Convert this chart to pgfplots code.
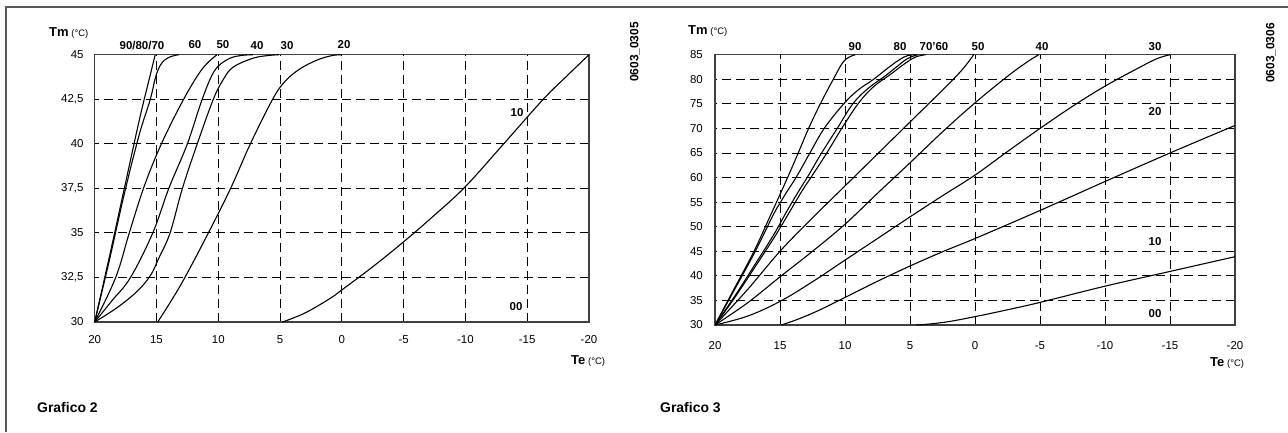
\documentclass[border=0pt]{standalone}
\usepackage{fontspec}
\setmainfont{Liberation Sans}
\usepackage{pgfplots}
\pgfplotsset{compat=1.18}
\pgfplotsset{
  mystyle/.style={
    scale only axis, anchor=south west,
    x dir=reverse, xmin=-20, xmax=20,
    xtick={20,15,10,5,0,-5,-10,-15,-20},
    xticklabels={20,15,10,5,0,-5,-10,-15,-20},
    major tick length=0pt,
    grid=major,
    major grid style={black, line width=0.8bp, dash pattern=on 9bp off 5bp},
    axis line style={line width=1.1bp, black!75},
    tick label style={font=\fontsize{11.5}{13}\selectfont, inner sep=0pt},
    cycle list={{black,solid}},
    no marks,
    every axis plot post/.append style={black, solid, line width=1.1bp, smooth, tension=0.6},
  }
}
\begin{document}
\begin{tikzpicture}[x=1bp,y=1bp]
\path[use as bounding box] (0,0) rectangle (1288,432);
\draw[line width=1.5bp, black!65] (6,0) -- (6,425) -- (1288,425);
% ---------------- Grafico 2 ----------------
\begin{axis}[mystyle, at={(94.7bp,110bp)}, width=494.3bp, height=267.3bp,
  ymin=30, ymax=45,
  ytick={30,32.5,35,37.5,40,42.5,45},
  yticklabels={30,{32,5},35,{37,5},40,{42,5},45},
  yticklabel shift=11bp,
  xticklabel shift=13.5bp]
\addplot coordinates {(20,30) (18.8,33.7) (17.6,37.5) (16.4,41.3) (15.6,43.6) (15.1,45)};
\addplot coordinates {(20,30) (18.8,33.5) (17.6,37.2) (16.4,40.5) (15.5,42.5) (15.05,43.8) (14.6,44.5) (14,44.85) (13.2,45)};
\addplot coordinates {(20,30) (18.3,32.5) (17.2,35) (16,37.6) (14.6,40) (12.8,42.5) (11.3,44.2) (10.1,45)};
\addplot coordinates {(20,30) (18.6,31.2) (17.1,32.5) (15.3,35) (14.0,37.5) (12.5,40) (11.3,42.5) (10.3,44.1) (9.2,44.75) (8.2,44.95) (7.2,45)};
\addplot coordinates {(20,30) (18.2,30.8) (16.6,31.7) (15.5,32.6) (14.8,33.6) (13.9,35) (12.9,37.5) (11.7,40) (10.4,42.5) (9.6,43.6) (8.8,44.3) (7.2,44.8) (6,44.95) (5.1,45)};
\addplot coordinates {(14.9,30) (13.8,31.2) (12.7,32.5) (10.8,35) (9.0,37.5) (7.4,40) (5.6,42.5) (4.6,43.5) (3.4,44.2) (2,44.7) (0.8,44.95) (0,45)};
\addplot coordinates {(4.8,30) (3,30.5) (1,31.3) (0,31.8) (-2.5,33.1) (-5,34.5) (-7.5,36.0) (-10,37.6) (-13.1,40) (-16.3,42.5) (-18.2,43.8) (-20,45)};
\end{axis}
% ---------------- Grafico 3 ----------------
\begin{axis}[mystyle, at={(715bp,107bp)}, width=520bp, height=270.3bp,
  ymin=30, ymax=85,
  ytick={30,35,...,85},
  yticklabels={30,35,40,45,50,55,60,65,70,75,80,85},
  yticklabel shift=12bp,
  xticklabel shift=16bp]
\addplot coordinates {(20,30) (18.5,37.5) (17,45) (15.7,52.5) (14.5,59.5) (13.6,65) (12.8,70) (11.9,75) (10.9,80) (10.2,83.3) (9.7,84.5) (9.2,85)};
\addplot coordinates {(20,30) (18.5,37.2) (17,44.5) (15.5,52.5) (15,54.8) (14.5,57) (13.7,60.3) (12.7,65) (11.6,70) (10.1,75) (9,77.8) (7.8,80) (6.7,82.3) (5.8,84) (5.2,84.8) (4.6,85)};
\addplot coordinates {(20,30) (18.5,35.8) (17,42) (15.5,48.3) (14.4,53.5) (13.5,57.5) (12.8,60.5) (11.8,65) (10.6,70) (9.4,75) (8.2,78.2) (6.9,80.7) (6,82.6) (5.2,84.2) (4.4,85)};
\addplot coordinates {(20,30) (18.5,35.5) (17,41.5) (15.4,48) (14.2,53.3) (13.3,57.3) (12.5,60.5) (11.4,65) (10.25,70) (9.0,75) (7.8,78.5) (6.5,81) (5.5,83) (4.6,84.5) (3.8,85)};
\addplot coordinates {(20,30) (17.5,37.2) (15,45) (12.5,51.8) (10,58.3) (7.5,64.8) (5,71.3) (2.5,77.8) (1,81.9) (0.1,85)};
\addplot coordinates {(20,30) (17.5,34.5) (15,39.8) (12.5,45) (10,50.5) (7.5,56.8) (5,63) (2.5,69.3) (0,75.2) (-2.5,80.6) (-4,83.5) (-4.9,85)};
\addplot coordinates {(20,30) (17.5,31.8) (15,34.8) (12.5,38.8) (10,43.2) (7.5,47.6) (5,52) (2.5,56.3) (0,60.5) (-2.5,65.3) (-5,70) (-7.5,74.5) (-10,78.6) (-12.5,82.2) (-14,84.2) (-15,85)};
\addplot coordinates {(14.9,30) (13.5,31.3) (12,33) (10,35.6) (7.5,38.9) (5,42) (2.5,44.9) (0,47.6) (-5,53.3) (-10,59.2) (-15,65) (-20,70.6)};
\addplot coordinates {(4.5,30) (3.5,30.2) (2,30.7) (0,31.7) (-2.5,33.1) (-5,34.6) (-10,37.9) (-15,40.9) (-20,43.9)};
\end{axis}
% ---------------- texts ----------------
\begin{scope}[every node/.style={font=\fontsize{11.5}{13}\selectfont\bfseries, inner sep=0pt}]
\node at (142,387) {90/80/70};
\node at (195,387) {60};
\node at (223,387) {50};
\node at (257,386) {40};
\node at (287,386) {30};
\node at (344,387) {20};
\node at (517,319) {10};
\node at (516,125) {00};
\node at (855,385) {90};
\node at (900,385) {80};
\node at (934,385) {70'60};
\node at (978,385) {50};
\node at (1042,385) {40};
\node at (1155,385) {30};
\node at (1155,320) {20};
\node at (1155,190) {10};
\node at (1155,118) {00};
\node[rotate=90, font=\fontsize{12}{13}\selectfont\bfseries] at (635,380) {0603\_0305};
\node[rotate=90, font=\fontsize{12}{13}\selectfont\bfseries] at (1271,379) {0603\_0306};
\end{scope}
\begin{scope}[every node/.style={inner sep=0pt, anchor=base west}]
\node at (49,395.5) {{\fontsize{13}{15}\selectfont\bfseries Tm} {\fontsize{9.5}{11}\selectfont(°C)}};
\node at (688,397.5) {{\fontsize{13}{15}\selectfont\bfseries Tm} {\fontsize{9.5}{11}\selectfont(°C)}};
\node at (571,67.5) {{\fontsize{13}{15}\selectfont\bfseries Te} {\fontsize{9.5}{11}\selectfont(°C)}};
\node at (1210,65.5) {{\fontsize{13}{15}\selectfont\bfseries Te} {\fontsize{9.5}{11}\selectfont(°C)}};
\node at (37,20) {\fontsize{14}{16}\selectfont\bfseries Grafico 2};
\node at (660,20) {\fontsize{14}{16}\selectfont\bfseries Grafico 3};
\end{scope}
\end{tikzpicture}
\end{document}
